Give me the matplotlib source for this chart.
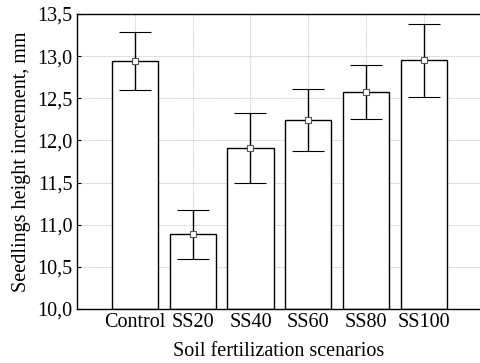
import numpy as np
import matplotlib
matplotlib.use('Agg')
import matplotlib.pyplot as plt
from matplotlib.ticker import FuncFormatter

scenarios = ['Control', 'SS20', 'SS40', 'SS60', 'SS80', 'SS100']
means = [12.94, 10.89, 11.91, 12.24, 12.58, 12.95]
err_low = [12.60, 10.59, 11.50, 11.87, 12.26, 12.52]
err_high = [13.29, 11.18, 12.32, 12.61, 12.89, 13.38]

plt.rcParams['font.family'] = ['Liberation Serif', 'DejaVu Serif']
plt.rcParams['font.size'] = 14.5

fig = plt.figure(figsize=(4.8, 3.63), dpi=100)
ax = fig.add_axes([77 / 480, 54 / 363, 1 - 77 / 480, 295 / 363])

x = np.arange(1, len(scenarios) + 1)
means = np.array(means)
yerr = np.vstack([means - np.array(err_low), np.array(err_high) - means])

ax.bar(x, means - 10, bottom=10, width=0.8, color='white', edgecolor='black', linewidth=1.0, zorder=2)
ax.errorbar(x, means, yerr=yerr, fmt='s', color='black', ecolor='black', elinewidth=1.0,
            capsize=11.5, capthick=1.0, markersize=5, markerfacecolor='white',
            markeredgecolor='#555555', markeredgewidth=0.8, zorder=3)

ax.set_xlim(0, 6.97)
ax.set_ylim(10, 13.5)
ax.set_xticks(x)
ax.set_xticklabels(scenarios)
ax.set_yticks(np.arange(10, 13.51, 0.5))
ax.yaxis.set_major_formatter(FuncFormatter(lambda v, p: f'{v:.1f}'.replace('.', ',')))
ax.tick_params(direction='in', length=3, width=0.8, pad=3)
ax.grid(True, color='#b8b8b8', linestyle=(0, (1, 1)), linewidth=0.6, zorder=0)
ax.set_axisbelow(True)
ax.spines['right'].set_visible(False)
for s in ['left', 'top', 'bottom']:
    ax.spines[s].set_linewidth(1.0)

ax.set_xlabel('Soil fertilization scenarios', labelpad=7)
ax.set_ylabel('Seedlings height increment, mm', labelpad=5)

fig.savefig('out.png', dpi=100)
